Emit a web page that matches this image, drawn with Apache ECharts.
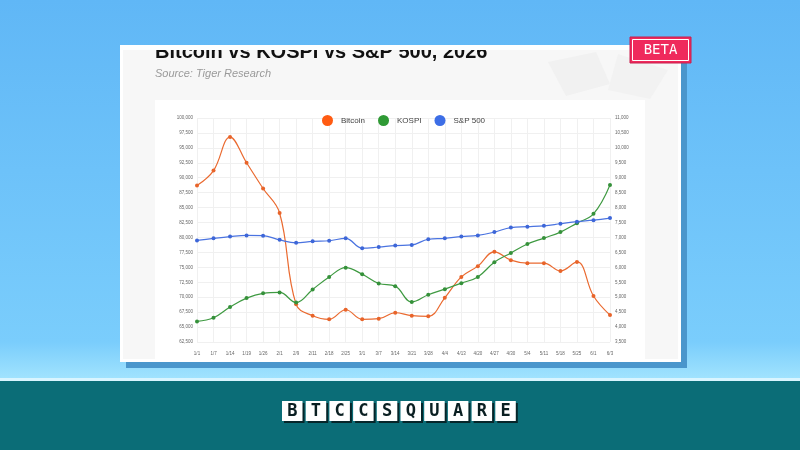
<!DOCTYPE html>
<html>
<head>
<meta charset="utf-8">
<script src="https://cdn.jsdelivr.net/npm/echarts@6/dist/echarts.min.js"></script>
<style>
  html, body { margin: 0; padding: 0; }
  #main { width: 800px; height: 450px; }
</style>
</head>
<body>
<div id="main"></div>
<script>
  // 数据
  var dates = ['1/1', '1/7', '1/14', '1/19', '1/26', '2/1', '2/9', '2/11', '2/18', '2/25', '3/1', '3/7', '3/14',
    '3/21', '3/28', '4/4', '4/13', '4/20', '4/27', '4/30', '5/4', '5/11', '5/18', '5/25', '6/1', '6/3']
  var bitcoin = [88700, 91200, 96800, 92500, 88200, 84100, 68800, 66900, 66300, 67900, 66300, 66400, 67400,
    66900, 66800, 69900, 73400, 75200, 77600, 76200, 75700, 75700, 74400, 75900, 70200, 67000]
  var kospi = [4190, 4310, 4670, 4970, 5130, 5160, 4820, 5260, 5680, 5990, 5770, 5460, 5370,
    4840, 5080, 5270, 5470, 5680, 6170, 6480, 6780, 6980, 7180, 7480, 7790, 8760]
  var sp500 = [6900, 6970, 7030, 7070, 7060, 6920, 6820, 6870, 6890, 6970, 6640, 6680, 6730,
    6750, 6940, 6970, 7030, 7070, 7180, 7330, 7360, 7390, 7460, 7530, 7580, 7650]
  var brand = ['B', 'T', 'C', 'C', 'S', 'Q', 'U', 'A', 'R', 'E']

  var chart = echarts.init(document.getElementById('main'))

  // 全局坐标的背景渐变，顶部遮挡也用同一个
  var skyFill = new echarts.graphic.LinearGradient(0, 0, 0, 380, [
    { offset: 0, color: '#60b7f6' }, { offset: 0.9, color: '#7acdfc' }, { offset: 1, color: '#a2e4fe' }], true)

  var graphics = [
    { type: 'rect', z: -20, silent: true, shape: { x: 0, y: 0, width: 800, height: 380 }, style: { fill: skyFill } },
    { type: 'rect', z: -20, silent: true, shape: { x: 0, y: 378, width: 800, height: 3 }, style: { fill: '#d9f5ff' } },
    { type: 'rect', z: -20, silent: true, shape: { x: 0, y: 381, width: 800, height: 69 }, style: { fill: '#0b6d77' } },
    // 卡片阴影
    { type: 'rect', z: -19, silent: true, shape: { x: 126, y: 62, width: 561, height: 306 }, style: { fill: '#4a96cc' } },
    { type: 'rect', z: -18, silent: true, shape: { x: 120, y: 45, width: 561, height: 317 }, style: { fill: '#ffffff' } },
    { type: 'rect', z: -17, silent: true, shape: { x: 123, y: 48, width: 555, height: 311 }, style: { fill: '#f7f7f7' } },
    { type: 'polygon', z: -16, silent: true, shape: { points: [[548, 62], [596, 52], [610, 84], [566, 96]] }, style: { fill: '#f1f1f1' } },
    { type: 'polygon', z: -16, silent: true, shape: { points: [[618, 54], [668, 70], [650, 99], [608, 90]] }, style: { fill: '#f2f2f2' } },
    { type: 'rect', z: -15, silent: true, shape: { x: 155, y: 100, width: 490, height: 259 }, style: { fill: '#ffffff' } },
    { type: 'text', z: -14, silent: true, x: 155, y: 62,
      style: { text: 'Bitcoin vs KOSPI vs S&P 500, 2026', font: 'bold 20px "Liberation Sans", Arial', fill: '#111111', textVerticalAlign: 'bottom' } },
    { type: 'text', z: -14, silent: true, x: 155, y: 74,
      style: { text: 'Source: Tiger Research', font: 'italic 11px "Liberation Sans", Arial', fill: '#9a9a9a', textVerticalAlign: 'middle' } },
    // 卡片顶部裁切
    { type: 'rect', z: 10, silent: true, shape: { x: 110, y: 0, width: 580, height: 45 }, style: { fill: skyFill } },
    { type: 'rect', z: 10, silent: true, shape: { x: 120, y: 45, width: 561, height: 5 }, style: { fill: '#ffffff' } },
    // BETA
    { type: 'rect', z: 11, silent: true, shape: { x: 630, y: 37, width: 61, height: 26 }, style: { fill: '#ef2a5c', stroke: '#c81e4e', lineWidth: 1 } },
    { type: 'rect', z: 12, silent: true, shape: { x: 632.5, y: 39.5, width: 56, height: 21 }, style: { fill: 'none', stroke: '#ffffff', lineWidth: 1 } },
    { type: 'text', z: 13, silent: true, x: 660.5, y: 50.5,
      style: { text: 'BETA', font: '14px "DejaVu Sans Mono", monospace', fill: '#ffffff', textAlign: 'center', textVerticalAlign: 'middle' } }
  ]

  brand.forEach(function (ch, i) {
    var x = 282 + i * 23.7
    graphics.push({ type: 'rect', z: 11, silent: true, shape: { x: x + 2, y: 403, width: 20.5, height: 20 }, style: { fill: '#06262a' } })
    graphics.push({ type: 'rect', z: 12, silent: true, shape: { x: x, y: 401, width: 20.5, height: 20 }, style: { fill: '#ffffff' } })
    graphics.push({ type: 'text', z: 13, silent: true, x: x + 10.25, y: 411.5,
      style: { text: ch, font: 'bold 17px "DejaVu Sans Mono", monospace', fill: '#0a1f22', textAlign: 'center', textVerticalAlign: 'middle' } })
  })

  var axisLabel = { fontSize: 4.5, color: '#666666', fontFamily: 'Liberation Sans' }

  var option = {
    animation: false,
    backgroundColor: 'transparent',
    graphic: graphics,
    legend: {
      top: 110,
      left: 317,
      itemWidth: 11,
      itemHeight: 11,
      itemGap: 13,
      icon: 'circle',
      textStyle: { fontSize: 8, color: '#444444', fontFamily: 'Liberation Sans', padding: [0, 0, 0, 3] },
      data: [
        { name: 'Bitcoin', itemStyle: { color: '#ff5b12' } },
        { name: 'KOSPI', itemStyle: { color: '#2f9a35' } },
        { name: 'S&P 500', itemStyle: { color: '#3d6ee6' } }
      ]
    },
    grid: { left: 197, right: 190, top: 118, height: 224 },
    xAxis: {
      type: 'category',
      data: dates,
      boundaryGap: false,
      axisLine: { show: false },
      axisTick: { show: false },
      axisLabel: Object.assign({ margin: 9, interval: 0 }, axisLabel),
      splitLine: { show: true, lineStyle: { color: '#f0f0f0', width: 1 } }
    },
    yAxis: [
      {
        type: 'value', min: 62500, max: 100000, interval: 2500,
        axisLine: { show: false }, axisTick: { show: false },
        axisLabel: Object.assign({ margin: 4 }, axisLabel),
        splitLine: { lineStyle: { color: '#f0f0f0', width: 1 } }
      },
      {
        type: 'value', min: 3500, max: 11000, interval: 500,
        axisLine: { show: false }, axisTick: { show: false },
        axisLabel: Object.assign({ margin: 5 }, axisLabel),
        splitLine: { show: false }
      }
    ],
    series: [
      { name: 'Bitcoin', type: 'line', yAxisIndex: 0, data: bitcoin, smooth: 0.4,
        symbol: 'circle', symbolSize: 4, lineStyle: { width: 1.2, color: '#ea6a30' }, itemStyle: { color: '#e8642a' } },
      { name: 'KOSPI', type: 'line', yAxisIndex: 1, data: kospi, smooth: 0.4,
        symbol: 'circle', symbolSize: 4, lineStyle: { width: 1.2, color: '#3f9a42' }, itemStyle: { color: '#35913a' } },
      { name: 'S&P 500', type: 'line', yAxisIndex: 1, data: sp500, smooth: 0.4,
        symbol: 'circle', symbolSize: 4, lineStyle: { width: 1.2, color: '#4a73e0' }, itemStyle: { color: '#3d66d8' } }
    ]
  }

  chart.setOption(option)
</script>
</body>
</html>
